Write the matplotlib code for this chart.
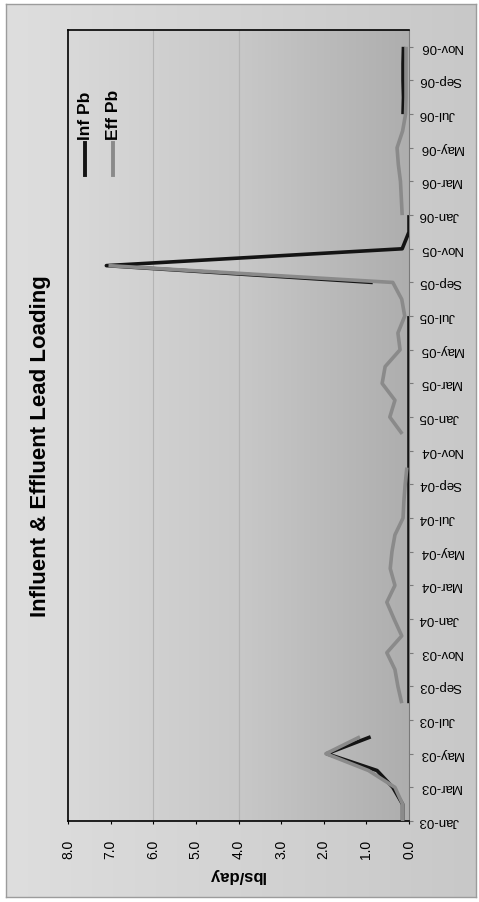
"""Influent & effluent lead loading, drawn in the rotated (portrait) layout of the scan."""

import matplotlib

matplotlib.use("Agg")
import matplotlib.pyplot as plt
import numpy as np
from matplotlib.colors import LinearSegmentedColormap
from matplotlib.lines import Line2D

nan = np.nan

months = [
    "Jan-03", "Feb-03", "Mar-03", "Apr-03", "May-03", "Jun-03", "Jul-03", "Aug-03",
    "Sep-03", "Oct-03", "Nov-03", "Dec-03", "Jan-04", "Feb-04", "Mar-04", "Apr-04",
    "May-04", "Jun-04", "Jul-04", "Aug-04", "Sep-04", "Oct-04", "Nov-04", "Dec-04",
    "Jan-05", "Feb-05", "Mar-05", "Apr-05", "May-05", "Jun-05", "Jul-05", "Aug-05",
    "Sep-05", "Oct-05", "Nov-05", "Dec-05", "Jan-06", "Feb-06", "Mar-06", "Apr-06",
    "May-06", "Jun-06", "Jul-06", "Aug-06", "Sep-06", "Oct-06", "Nov-06",
]

inf_pb = [
    0.15, 0.15, 0.38, 0.75, 1.93, 0.90, nan, 0.0,
    0.0, 0.0, 0.0, 0.0, 0.0, 0.0, 0.0, 0.0,
    0.0, 0.0, 0.0, 0.0, 0.0, 0.0, 0.0, 0.0,
    0.0, 0.0, 0.0, 0.0, 0.0, 0.0, 0.0, nan,
    0.85, 7.10, 0.16, 0.0, 0.0, nan, nan, nan,
    nan, nan, 0.14, 0.13, 0.14, 0.14, 0.13,
]

eff_pb = [
    0.15, 0.15, 0.33, 0.95, 1.95, 1.15, nan, 0.17,
    0.26, 0.33, 0.52, 0.17, 0.35, 0.52, 0.33, 0.44,
    0.40, 0.33, 0.14, 0.12, 0.09, 0.05, nan, 0.16,
    0.45, 0.33, 0.63, 0.56, 0.21, 0.26, 0.10, 0.17,
    0.38, 7.05, nan, nan, 0.16, 0.18, 0.20, 0.25,
    0.28, 0.15, 0.08, 0.07, 0.07, 0.07, 0.07,
]

value_ticks = [0.0, 1.0, 2.0, 3.0, 4.0, 5.0, 6.0, 7.0, 8.0]
grid_values = [4.0, 6.0]

plt.rcParams["font.family"] = ["Liberation Sans", "DejaVu Sans"]

W, H = 479, 902
INF_COLOR = "#141414"
EFF_COLOR = "#8a8a8a"


def fx(px):
    return px / W


def fy(py):
    return 1 - py / H


fig = plt.figure(figsize=(W / 100, H / 100), dpi=100)

# chart area: light gray box with a soft gradient
bg = fig.add_axes([fx(6), fy(897), (476 - 6) / W, (897 - 4) / H])
chart_cmap = LinearSegmentedColormap.from_list("chart", ["#dedede", "#c8c8c8"])
bg.imshow(np.linspace(0, 1, 256).reshape(1, -1), cmap=chart_cmap, aspect="auto",
          extent=[0, 1, 0, 1])
bg.set_xticks([])
bg.set_yticks([])
for spine in bg.spines.values():
    spine.set_color("#9c9c9c")
    spine.set_linewidth(1.0)

# plot area: value runs right-to-left, months run bottom-to-top
ax = fig.add_axes([fx(68), fy(821), (409 - 68) / W, (821 - 30) / H])
plot_cmap = LinearSegmentedColormap.from_list("plot", ["#d9d9d9", "#c8c8c8", "#aeaeae"])
ax.imshow(np.linspace(0, 1, 256).reshape(1, -1), cmap=plot_cmap, aspect="auto",
          extent=[8, 0, 0, 47], zorder=0)

for g in grid_values:
    ax.axvline(g, color="#b4b4b4", linewidth=0.8, zorder=1)

pos = np.arange(len(months))
ax.plot(inf_pb, pos, color=INF_COLOR, linewidth=2.6, solid_capstyle="butt", zorder=3)
ax.plot(eff_pb, pos, color=EFF_COLOR, linewidth=2.6, solid_capstyle="butt", zorder=4)

ax.set_xlim(8, 0)
ax.set_ylim(0, 47)

ax.set_xticks(value_ticks, labels=[f"{v:.1f}" for v in value_ticks], rotation=90)
ax.tick_params(axis="x", direction="out", length=2.5, width=0.8, color="black",
               pad=11, labelsize=10)

ax.yaxis.tick_right()
tick_pos = pos[::2]
ax.set_yticks(tick_pos, labels=[months[i] for i in tick_pos], rotation=180)
ax.tick_params(axis="y", direction="out", length=3, width=0.8, color="#7a7a7a",
               pad=4, labelsize=9.5)
for lbl in ax.get_yticklabels():
    lbl.set_horizontalalignment("left")
    lbl.set_verticalalignment("center")

for side in ("left", "top", "bottom"):
    ax.spines[side].set_color("black")
    ax.spines[side].set_linewidth(1.2)
ax.spines["right"].set_color("#7a7a7a")
ax.spines["right"].set_linewidth(0.8)

fig.text(fx(236), fy(876), "lbs/day", rotation=180, ha="center", va="center",
         fontsize=12, fontweight="bold")

fig.text(fx(41), fy(446), "Influent & Effluent Lead Loading", rotation=90,
         ha="center", va="center", fontsize=16, fontweight="bold")

# legend (two entries side by side, reading bottom-to-top)
for x_px, label, color in ((85, "Inf Pb", INF_COLOR), (113, "Eff Pb", EFF_COLOR)):
    fig.add_artist(Line2D([fx(x_px), fx(x_px)], [fy(175), fy(143)],
                          color=color, linewidth=2.8))
    fig.text(fx(x_px), fy(140), label, rotation=90, ha="center", va="bottom",
             fontsize=12.5, fontweight="bold")

fig.savefig("out.png", dpi=100)
